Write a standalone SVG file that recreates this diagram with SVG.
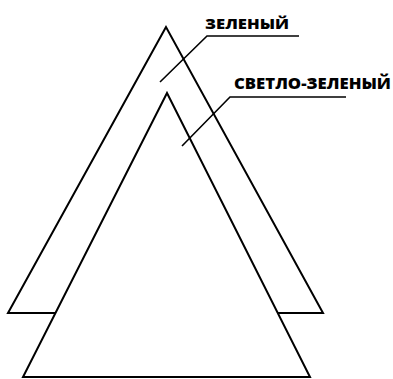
<svg xmlns="http://www.w3.org/2000/svg" width="393" height="379" viewBox="0 0 393 379">
<style>
.tri{fill:#fff;stroke:#000;stroke-width:2;stroke-linejoin:miter}
.lead{fill:none;stroke:#000;stroke-width:1.6}
.lbl{font-family:"Open Sans","Liberation Sans",Arial,sans-serif;font-weight:800;fill:#000}
</style>
<rect width="393" height="379" fill="#fff"/>
<g id="green">
<polygon class="tri" points="166,27 8,313 323,313"/>
</g>
<g id="light-green">
<polygon class="tri" points="167,93 23,377 310,377"/>
</g>
<g id="connectors">
<polyline class="lead" points="160,82 207,36 299,36"/>
<polyline class="lead" points="182,146 230,97 346,97"/>
</g>
<g id="label-green">
<text class="lbl" x="205" y="29" font-size="14" textLength="84" lengthAdjust="spacingAndGlyphs">ЗЕЛЕНЫЙ</text>
</g>
<g id="label-light-green">
<text class="lbl" x="234" y="89" font-size="15" textLength="157" lengthAdjust="spacingAndGlyphs">СВЕТЛО-ЗЕЛЕНЫЙ</text>
</g>
</svg>
